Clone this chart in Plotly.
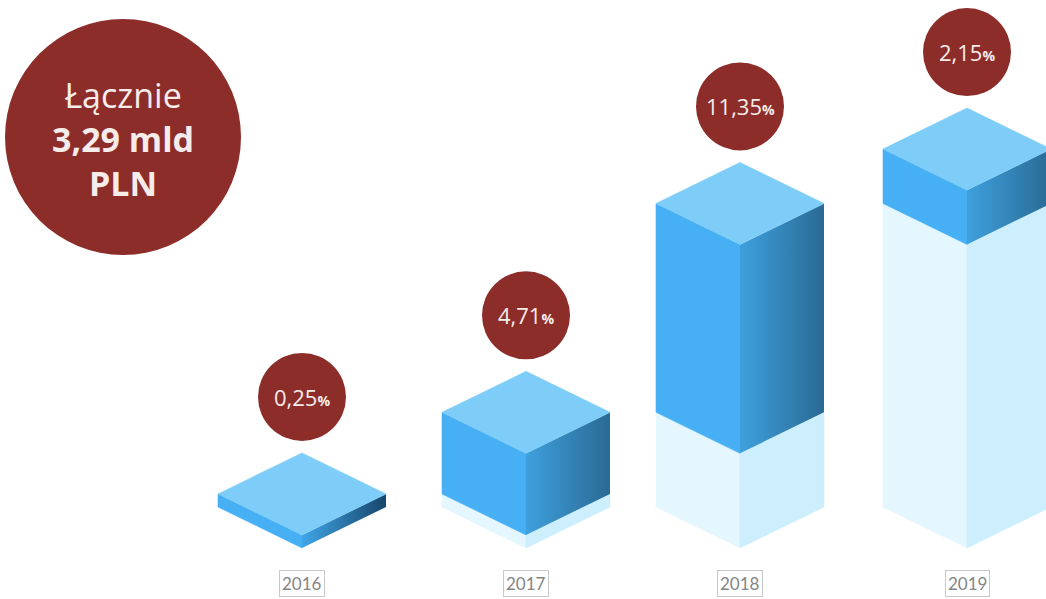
import plotly.graph_objects as go

# ---------------- data ----------------
years = ["2016", "2017", "2018", "2019"]
amounts_mld = [0.12, 0.75, 1.92, 0.50]          # yearly amounts, mld PLN
growth_pct = ["0,25", "4,71", "11,35", "2,15"]   # labels in circles
total_lines = ["Łącznie", "3,29 mld", "PLN"]

# ---------------- layout constants ----------------
W, H = 1046, 599
PX_PER_MLD = 108.8          # vertical scale
BASE_PX = 548               # pixel row of the front-bottom vertex
centers_px = [302, 526, 740, 967]
HALF_W = 84                 # half width of a block (px)
DEPTH_PX = 41               # vertical half-depth of top rhombus (px)
CIRCLE_GAP_PX = 56          # from top vertex to circle centre
LABEL_PX = 583              # pixel row of year labels

D = DEPTH_PX / PX_PER_MLD
y_min = -(H - BASE_PX) / PX_PER_MLD
y_max = BASE_PX / PX_PER_MLD


def px_to_val(py):
    return (BASE_PX - py) / PX_PER_MLD


RED = "#8C2D2A"
TXT = "#F6ECEA"

fig = go.Figure()


def face(xs, ys, color=None, grad=None):
    xs = list(xs) + [xs[0]]
    ys = list(ys) + [ys[0]]
    kw = dict(x=xs, y=ys, mode="lines", fill="toself", hoverinfo="skip",
              showlegend=False)
    if grad is not None:
        kw["line"] = dict(width=0, color=grad[0])
        kw["fillgradient"] = dict(type="horizontal",
                                  colorscale=[[0, grad[0]], [1, grad[1]]])
    else:
        kw["line"] = dict(width=0.6, color=color)
        kw["fillcolor"] = color
    fig.add_trace(go.Scatter(**kw))


def prism(cx, y0, y1, left, right, top=None, right_grad=None):
    L, R = cx - HALF_W, cx + HALF_W
    face([L, cx, cx, L], [y0 + D, y0, y1, y1 + D], color=left)
    face([cx, R, R, cx], [y0, y0 + D, y1 + D, y1], color=right, grad=right_grad)
    if top is not None:
        face([cx, L, cx, R], [y1, y1 + D, y1 + 2 * D, y1 + D], color=top)


cum = 0.0
tops = []
for i, (cx, amt) in enumerate(zip(centers_px, amounts_mld)):
    before = cum
    cum += amt
    # ghost of previous total
    if before > 0:
        prism(cx, 0, before, left="#E4F6FE", right="#CDEFFD")
    # this year's block
    if i == 0:
        grad = ("#3FA5E6", "#17466B")
    else:
        grad = ("#3EA0DD", "#2A6A94")
    prism(cx, before, cum, left="#47B0F4", right=None,
          top="#7DCDF8", right_grad=grad)
    tops.append(cum)

# circles above blocks
circle_y = [t + 2 * D + CIRCLE_GAP_PX / PX_PER_MLD for t in tops]
fig.add_trace(go.Scatter(
    x=centers_px, y=circle_y, mode="markers",
    marker=dict(size=88, color=RED, line=dict(width=0)),
    hoverinfo="skip", showlegend=False))

# total circle
fig.add_trace(go.Scatter(
    x=[123], y=[px_to_val(137)], mode="markers",
    marker=dict(size=236, color=RED, line=dict(width=0)),
    hoverinfo="skip", showlegend=False))

annotations = []
for cx, cy, p in zip(centers_px, circle_y, growth_pct):
    annotations.append(dict(
        x=cx, y=cy, xref="x", yref="y", showarrow=False,
        text=f"{p}<span style='font-size:14px'><b>%</b></span>",
        font=dict(family="Open Sans, sans-serif", size=22, color=TXT),
        xanchor="center", yanchor="middle"))

annotations.append(dict(
    x=123, y=px_to_val(139), xref="x", yref="y", showarrow=False,
    text=f"{total_lines[0]}<br><b>{total_lines[1]}</b><br><b>{total_lines[2]}</b>",
    font=dict(family="Open Sans, sans-serif", size=34, color=TXT),
    xanchor="center", yanchor="middle", align="center"))

for cx, yr in zip(centers_px, years):
    annotations.append(dict(
        x=cx, y=px_to_val(LABEL_PX), xref="x", yref="y", showarrow=False,
        text=yr,
        font=dict(family="Lato, sans-serif", size=17, color="#858585"),
        bordercolor="#C8C8C8", borderwidth=1, borderpad=2,
        xanchor="center", yanchor="middle"))

fig.update_layout(
    width=W, height=H,
    margin=dict(l=0, r=0, t=0, b=0),
    paper_bgcolor="white", plot_bgcolor="white",
    xaxis=dict(range=[0, W], visible=False, fixedrange=True),
    yaxis=dict(range=[y_min, y_max], visible=False, fixedrange=True),
    annotations=annotations,
    showlegend=False,
)

fig.write_html("out.html")
